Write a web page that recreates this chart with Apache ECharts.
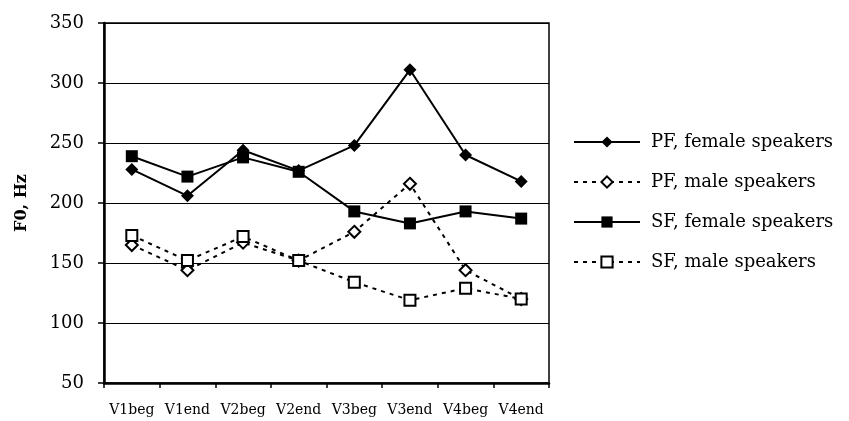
<!DOCTYPE html>
<html>
<head>
<meta charset="utf-8">
<script src="https://cdn.jsdelivr.net/npm/echarts@6/dist/echarts.min.js"></script>
<style>html,body{margin:0;padding:0;background:#fff}#c{width:849px;height:421px}</style>
</head>
<body>
<div id="c"></div>
<script>
const categories = ['V1beg','V1end','V2beg','V2end','V3beg','V3end','V4beg','V4end'];
const pfFemale = [228, 206, 244, 227, 248, 311, 240, 218];
const pfMale   = [165, 144, 167, 152, 176, 216, 144, 120];
const sfFemale = [239, 222, 238, 226, 193, 183, 193, 187];
const sfMale   = [173, 152, 172, 152, 134, 119, 129, 120];
const yTicks = {min: 50, max: 350, step: 50};
const seriesNames = ['PF, female speakers','PF, male speakers','SF, female speakers','SF, male speakers'];

const serif = 'DejaVu Serif';
const chart = echarts.init(document.getElementById('c'), null, {renderer: 'canvas'});
const solid = {color: '#000', width: 2, type: 'solid'};
const dashed = {color: '#000', width: 2, type: [4, 5]};
chart.setOption({
  animation: false,
  backgroundColor: '#fff',
  grid: {left: 104, right: 300, top: 23, bottom: 38, show: true, borderColor: '#000', borderWidth: 1.5, backgroundColor: 'transparent'},
  xAxis: {
    type: 'category', data: categories, boundaryGap: true,
    axisLine: {lineStyle: {color: '#000', width: 2.5}},
    axisTick: {show: true, length: 5, lineStyle: {color: '#000', width: 1.5}},
    axisLabel: {color: '#000', fontFamily: serif, fontSize: 14, margin: 20, interval: 0}
  },
  yAxis: {
    type: 'value', min: yTicks.min, max: yTicks.max, interval: yTicks.step,
    name: 'F0, Hz', nameLocation: 'middle', nameGap: 74,
    nameTextStyle: {color: '#000', fontFamily: serif, fontWeight: 'bold', fontSize: 16},
    axisLine: {show: true, lineStyle: {color: '#000', width: 2.5}},
    axisTick: {show: true, length: 6, lineStyle: {color: '#000', width: 1.5}},
    axisLabel: {color: '#000', fontFamily: serif, fontSize: 18, margin: 20},
    splitLine: {show: true, lineStyle: {color: '#000', width: 1}}
  },
  legend: {
    orient: 'vertical', left: 568, top: 127, itemWidth: 66, itemHeight: 14, itemGap: 20,
    textStyle: {color: '#000', fontFamily: serif, fontSize: 18, lineHeight: 20, padding: [0, 0, 0, 6]},
    data: seriesNames
  },
  series: [
    {name: seriesNames[1], type: 'line', data: pfMale, symbol: 'emptyDiamond', symbolSize: 12,
     lineStyle: dashed, itemStyle: {color: '#000', borderColor: '#000', borderWidth: 2}},
    {name: seriesNames[3], type: 'line', data: sfMale, symbol: 'emptyRect', symbolSize: 11,
     lineStyle: dashed, itemStyle: {color: '#000', borderColor: '#000', borderWidth: 2}},
    {name: seriesNames[0], type: 'line', data: pfFemale, symbol: 'diamond', symbolSize: 13,
     lineStyle: solid, itemStyle: {color: '#000'}},
    {name: seriesNames[2], type: 'line', data: sfFemale, symbol: 'rect', symbolSize: 12,
     lineStyle: solid, itemStyle: {color: '#000'}}
  ]
});
</script>
</body>
</html>
